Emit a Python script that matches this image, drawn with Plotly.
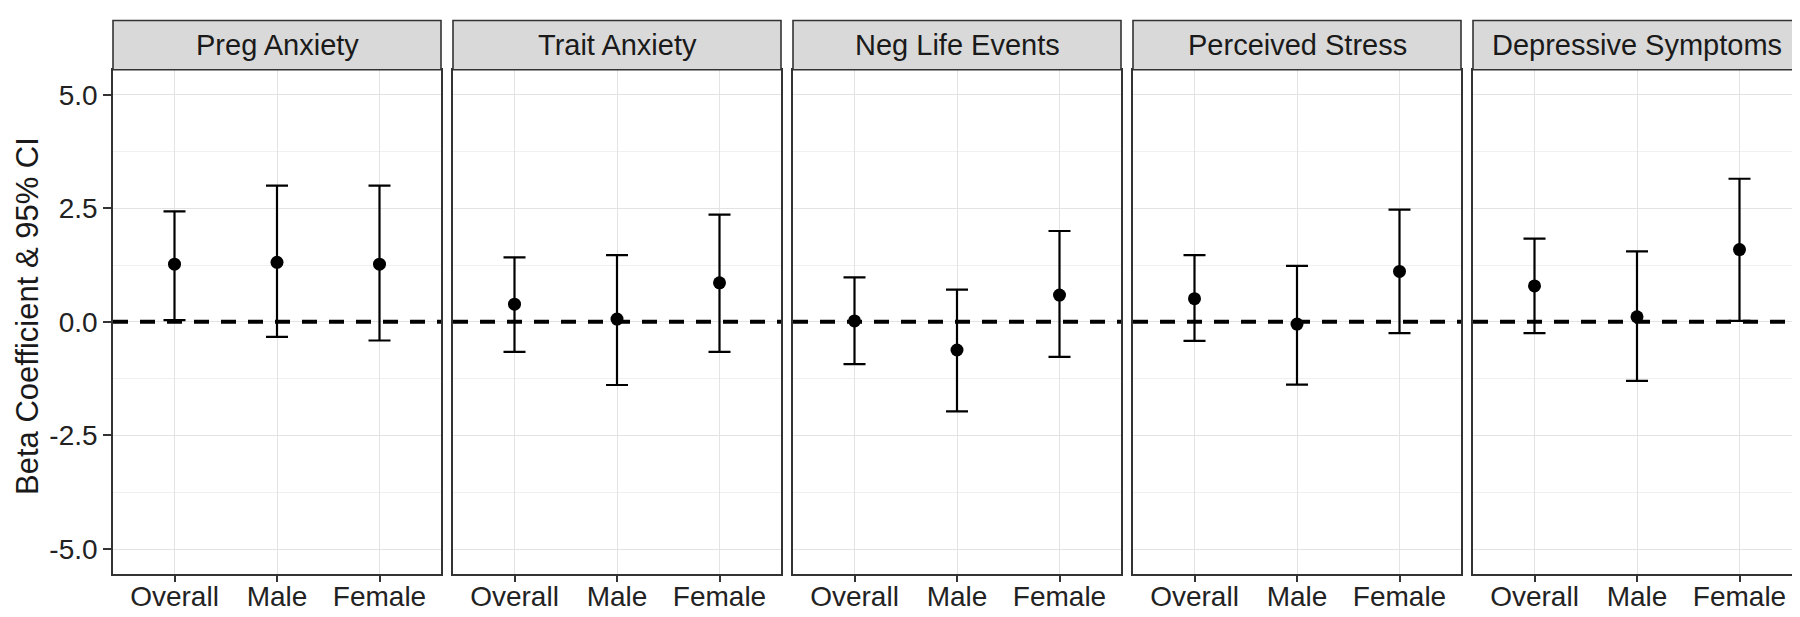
import plotly.graph_objects as go

# ---------------- data ----------------
panels = ["Preg Anxiety", "Trait Anxiety", "Neg Life Events", "Perceived Stress", "Depressive Symptoms"]
groups = ["Overall", "Male", "Female"]

beta_preg = [1.27, 1.31, 1.27]
lower_preg = [0.04, -0.33, -0.41]
upper_preg = [2.43, 3.00, 3.00]

beta_trait = [0.39, 0.06, 0.86]
lower_trait = [-0.66, -1.39, -0.66]
upper_trait = [1.42, 1.47, 2.36]

beta_neg = [0.02, -0.62, 0.59]
lower_neg = [-0.93, -1.97, -0.77]
upper_neg = [0.98, 0.71, 2.00]

beta_stress = [0.51, -0.05, 1.11]
lower_stress = [-0.42, -1.38, -0.25]
upper_stress = [1.47, 1.23, 2.47]

beta_dep = [0.79, 0.11, 1.59]
lower_dep = [-0.25, -1.30, 0.02]
upper_dep = [1.83, 1.55, 3.15]

betas = [beta_preg, beta_trait, beta_neg, beta_stress, beta_dep]
lowers = [lower_preg, lower_trait, lower_neg, lower_stress, lower_dep]
uppers = [upper_preg, upper_trait, upper_neg, upper_stress, upper_dep]

y_ticks = [-5.0, -2.5, 0.0, 2.5, 5.0]
y_tick_labels = ["-5.0", "-2.5", "0.0", "2.5", "5.0"]
ref_line = 0.0
y_title = "Beta Coefficient & 95% CI"

# ---------------- layout geometry ----------------
W, H = 1800, 617
left_px, right_px = 105.0, 1793.0
gap_px = 12.0
panel_w = (right_px - left_px - 4 * gap_px) / 5
plot_top_px, plot_bot_px = 61.7, 566.0
strip_top_px = 12.5

y_dom = [1 - plot_bot_px / H, 1 - plot_top_px / H]
strip_y = [1 - plot_top_px / H, 1 - strip_top_px / H]

FONT = "Liberation Sans, Arial, sans-serif"
border = "#333333"
grid_major = "#E3E3E3"
grid_minor = "#F0F0F0"

shapes = []
annotations = []
layout = dict(
    width=W, height=H,
    margin=dict(l=0, r=0, t=0, b=0),
    paper_bgcolor="white", plot_bgcolor="white",
    showlegend=False,
    font=dict(family=FONT, color="#333333"),
)

fig = go.Figure()

for i, name in enumerate(panels):
    k = i + 1
    xs = "" if k == 1 else str(k)
    x0 = (left_px + i * (panel_w + gap_px)) / W
    x1 = (left_px + i * (panel_w + gap_px) + panel_w) / W

    b = betas[i]
    lo = lowers[i]
    up = uppers[i]
    fig.add_trace(go.Scatter(
        x=groups, y=b, mode="markers",
        xaxis="x" + xs, yaxis="y" + xs,
        marker=dict(color="black", size=13, symbol="circle"),
        error_y=dict(type="data", symmetric=False,
                     array=[u - v for u, v in zip(up, b)],
                     arrayminus=[v - l for v, l in zip(b, lo)],
                     color="black", thickness=2.2, width=11),
        hoverinfo="skip",
    ))

    layout["xaxis" + xs] = dict(
        domain=[x0, x1], anchor="y" + xs, type="category",
        categoryorder="array", categoryarray=groups,
        range=[-0.6, 2.6],
        showgrid=True, gridcolor=grid_major, gridwidth=1.2,
        zeroline=False,
        showline=True, mirror=True, linecolor=border, linewidth=1.6,
        ticks="outside", ticklen=6, tickwidth=1.5, tickcolor=border,
        tickfont=dict(family=FONT, size=28, color="#222222"),
        ticklabelstandoff=-9,
        fixedrange=True,
    )
    layout["yaxis" + xs] = dict(
        domain=y_dom, anchor="x" + xs,
        range=[-5.55, 5.55],
        tickvals=y_ticks, ticktext=y_tick_labels,
        showticklabels=(k == 1),
        ticks="outside" if k == 1 else "", ticklen=8, tickwidth=1.5, tickcolor=border,
        tickfont=dict(family=FONT, size=28, color="#222222"),
        ticklabelstandoff=0,
        showgrid=True, gridcolor=grid_major, gridwidth=1.2,
        minor=dict(dtick=1.25, tick0=0, showgrid=True, gridcolor=grid_minor, gridwidth=1),
        zeroline=False,
        showline=True, mirror=True, linecolor=border, linewidth=1.6,
        fixedrange=True,
    )

    # dashed reference line
    shapes.append(dict(
        type="line", xref="x" + xs + " domain", yref="y" + xs,
        x0=0, x1=1, y0=ref_line, y1=ref_line,
        line=dict(color="black", width=4, dash="15px,12px"),
        layer="above",
    ))
    # strip
    shapes.append(dict(
        type="rect", xref="paper", yref="paper",
        x0=x0, x1=x1, y0=strip_y[0], y1=strip_y[1],
        fillcolor="#D9D9D9", line=dict(color=border, width=1.6),
    ))
    annotations.append(dict(
        text=name, xref="paper", yref="paper",
        x=(x0 + x1) / 2, y=(strip_y[0] + strip_y[1]) / 2,
        xanchor="center", yanchor="middle", showarrow=False,
        font=dict(family=FONT, size=29, color="#1a1a1a"),
    ))

annotations.append(dict(
    text=y_title, xref="paper", yref="paper",
    x=19 / W, y=1 - 308 / H,
    xanchor="center", yanchor="middle", showarrow=False, textangle=-90,
    font=dict(family=FONT, size=31, color="#1a1a1a"),
))

layout["shapes"] = shapes
layout["annotations"] = annotations
fig.update_layout(**layout)
fig.write_html("out.html")
